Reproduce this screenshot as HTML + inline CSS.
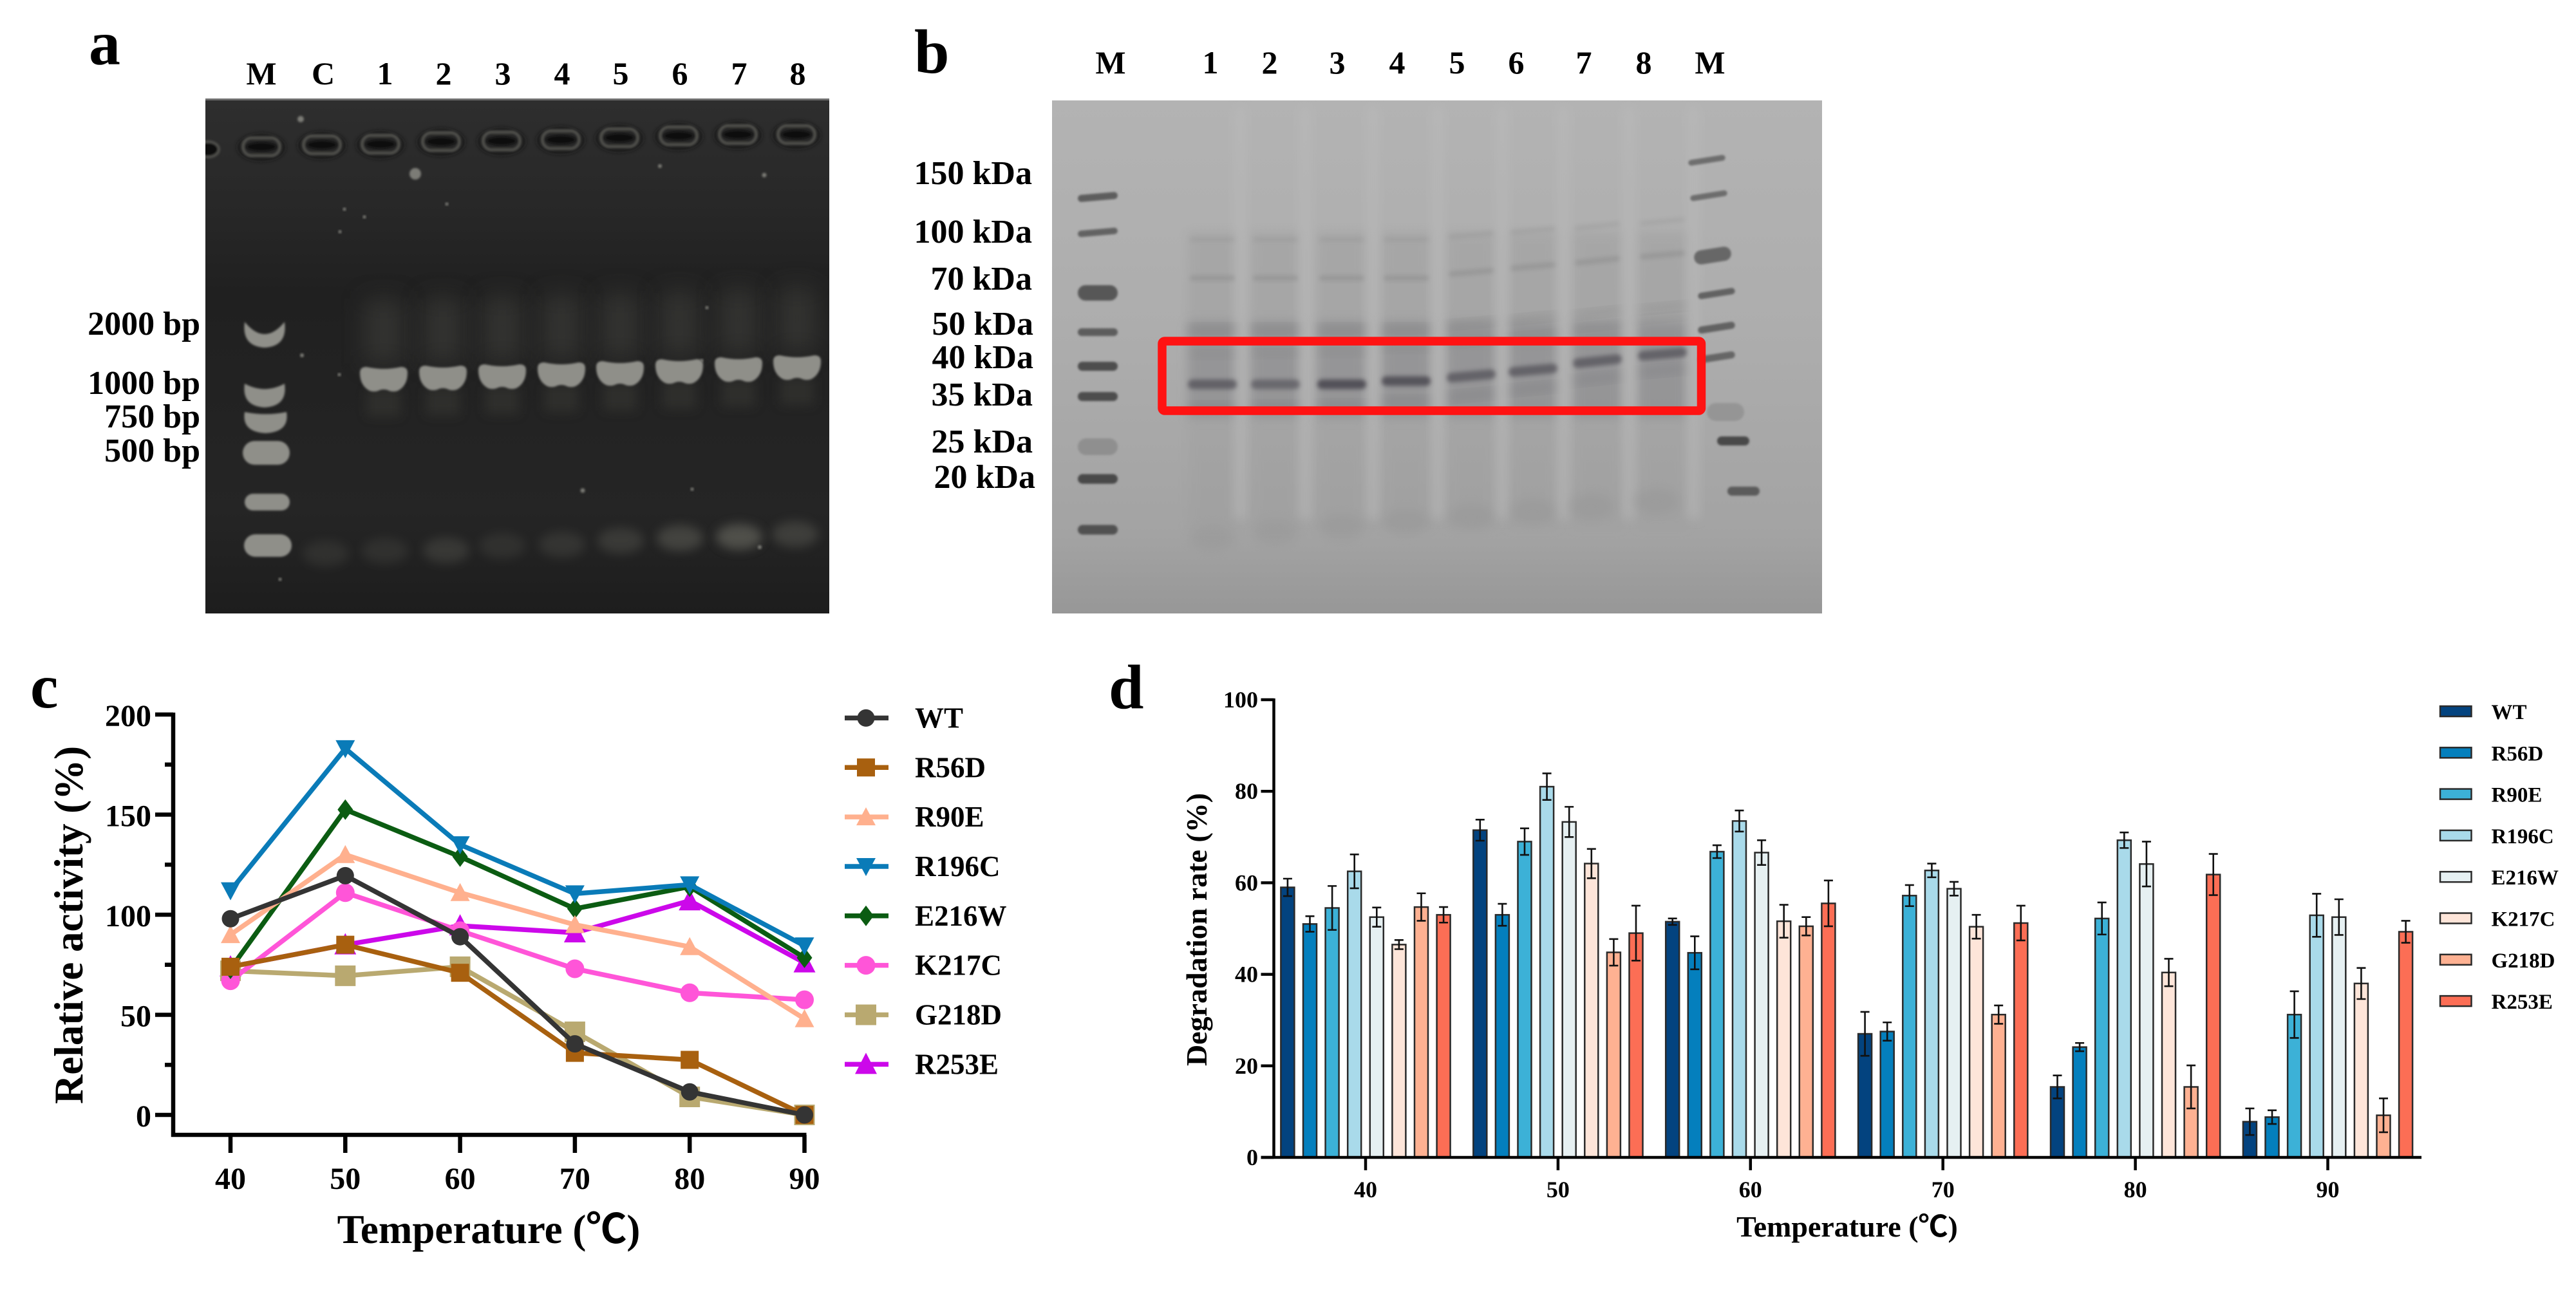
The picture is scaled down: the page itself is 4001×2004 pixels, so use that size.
<!DOCTYPE html>
<html lang="en">
<head>
<meta charset="utf-8">
<title>Gel and enzyme activity figure</title>
<style>
html,body{margin:0;padding:0;background:#fff;width:4001px;height:2004px;overflow:hidden}
svg{display:block}
text{font-family:"Liberation Serif","Noto Sans CJK SC",serif;font-weight:bold;fill:#000}
</style>
</head>
<body>
<svg id="figure" xmlns="http://www.w3.org/2000/svg" width="4001" height="2004" viewBox="0 0 4001 2004">
  <defs>
    <filter id="b1" x="-30%" y="-30%" width="160%" height="160%"><feGaussianBlur stdDeviation="1.5"/></filter>
    <filter id="b3" x="-30%" y="-80%" width="160%" height="260%"><feGaussianBlur stdDeviation="3.5"/></filter>
    <filter id="b8" x="-50%" y="-50%" width="200%" height="200%"><feGaussianBlur stdDeviation="8"/></filter>
    <filter id="b18" x="-60%" y="-60%" width="220%" height="220%"><feGaussianBlur stdDeviation="18"/></filter>
    <clipPath id="clipA"><rect x="319" y="153" width="969" height="800"/></clipPath>
    <clipPath id="clipB"><rect x="1634" y="156" width="1196" height="797"/></clipPath>
    <linearGradient id="gelBBg" x1="0" y1="0" x2="0" y2="1">
      <stop offset="0" stop-color="#b3b3b3"/><stop offset=".45" stop-color="#adadad"/>
      <stop offset=".85" stop-color="#a3a3a3"/><stop offset="1" stop-color="#979797"/>
    </linearGradient>
    <linearGradient id="gelABg" x1="0" y1="0" x2="0" y2="1">
      <stop offset="0" stop-color="#2e2e2e"/><stop offset=".2" stop-color="#282828"/>
      <stop offset=".38" stop-color="#202020"/><stop offset=".8" stop-color="#252525"/>
      <stop offset="1" stop-color="#1d1d1d"/>
    </linearGradient>
  </defs>

  <g id="panelA">
    <text x="138" y="100" font-size="98">a</text>
    <rect x="319" y="153" width="969" height="800" fill="url(#gelABg)"/>
    <rect x="319" y="153" width="969" height="3" fill="#6e6e6e"/>
    <g id="gelA" clip-path="url(#clipA)"></g>
    <g id="labelsA"></g>
  </g>

  <g id="panelB">
    <text x="1420" y="113" font-size="98">b</text>
    <rect x="1634" y="156" width="1196" height="797" fill="url(#gelBBg)"/>
    <g id="gelB" clip-path="url(#clipB)"></g>
    <rect x="1805" y="530" width="837.5" height="108" rx="4" fill="none" stroke="#ff1212" stroke-width="13.5"/>
    <g id="labelsB"></g>
  </g>

  <g id="panelC">
    <text x="47" y="1099" font-size="98">c</text>
  </g>
  <g id="panelD">
    <text x="1722" y="1100" font-size="98">d</text>
  </g>
</svg>

<script>
/* ---------- chart C data ---------- */
const activityTemps = [40, 50, 60, 70, 80, 90];
const activityTicksMajor = [0, 50, 100, 150, 200];
const activityTicksMinor = [25, 75, 125, 175];
const activityNames = ['WT', 'R56D', 'R90E', 'R196C', 'E216W', 'K217C', 'G218D', 'R253E'];
const activityWT = [98, 119.5, 89, 35.5, 11.5, 0];
const activityR56D = [74, 85, 71, 31, 27.5, 0];
const activityR90E = [90, 130, 111, 95, 84, 48];
const activityR196C = [112, 183, 135, 110.5, 115, 84.5];
const activityE216W = [73, 152.5, 129, 103, 114, 78.5];
const activityK217C = [67, 111, 92, 73, 61, 57.5];
const activityG218D = [72, 69.5, 74, 41.5, 9, 0];
const activityR253E = [74, 85, 94.5, 91, 107, 76];

/* ---------- chart D data ---------- */
const degradationTemps = [40, 50, 60, 70, 80, 90];
const degradationTicks = [0, 20, 40, 60, 80, 100];
const degradationNames = ['WT', 'R56D', 'R90E', 'R196C', 'E216W', 'K217C', 'G218D', 'R253E'];
const degWT = [59, 71.5, 51.5, 27, 15.4, 7.8];
const degR56D = [51, 53, 44.7, 27.5, 24.1, 8.8];
const degR90E = [54.5, 69, 66.8, 57.2, 52.2, 31.2];
const degR196C = [62.5, 81, 73.5, 62.7, 69.3, 52.9];
const degE216W = [52.5, 73.3, 66.6, 58.7, 64.1, 52.5];
const degK217C = [46.5, 64.2, 51.6, 50.4, 40.4, 38];
const degG218D = [54.7, 44.8, 50.5, 31.2, 15.4, 9.2];
const degR253E = [53, 49, 55.5, 51.2, 61.8, 49.3];
const errWT = [1.9, 2.3, 0.7, 4.8, 2.5, 2.9];
const errR56D = [1.7, 2.4, 3.6, 2, 0.9, 1.5];
const errR90E = [4.8, 2.9, 1.4, 2.3, 3.5, 5.1];
const errR196C = [3.7, 2.9, 2.3, 1.5, 1.7, 4.7];
const errE216W = [2.1, 3.3, 2.7, 1.5, 4.9, 3.9];
const errK217C = [1, 3.2, 3.6, 2.6, 3, 3.4];
const errG218D = [3, 2.9, 2, 2, 4.7, 3.7];
const errR253E = [1.7, 6, 5, 3.8, 4.5, 2.4];

const NS = 'http://www.w3.org/2000/svg';
function make(tag, attrs, parent) {
  const el = document.createElementNS(NS, tag);
  for (const k in attrs) el.setAttribute(k, attrs[k]);
  parent.appendChild(el);
  return el;
}
function label(parent, str, x, y, size, anchor, name, extra) {
  const t = make('text', Object.assign({x: x, y: y, 'font-size': size, 'text-anchor': anchor}, extra || {}), parent);
  t.textContent = str;
  
  
  return t;
}
function slug(s) { return s.toLowerCase(); }

/* ---------- Panel A gel ---------- */
(function () {
  const g = document.getElementById('gelA');
  const l = document.getElementById('labelsA');
  const laneNames = ['M', 'C', '1', '2', '3', '4', '5', '6', '7', '8'];
  const laneX = [406, 502, 598, 689, 781, 873, 964, 1056, 1148, 1239];
  laneNames.forEach(function (n, i) {
    label(l, n, laneX[i], 131, 50, 'middle', 'lane-label-' + slug(n));
  });
  const sizes = ['2000 bp', '1000 bp', '750 bp', '500 bp'];
  const sizeY = [520, 612, 664, 717];
  sizes.forEach(function (s, i) {
    label(l, s, 311, sizeY[i], 52, 'end', 'ladder-size-label');
  });
  const wellX = [406, 500, 591, 685, 779, 871, 962, 1054, 1146, 1237];
  const wellY = [228, 225, 224, 220, 219, 217, 214, 211, 209, 209];
  wellX.forEach(function (x, i) {
    const halo = make('ellipse', {cx: x, cy: wellY[i] + 1, rx: 37, ry: 21, fill: '#171717', opacity: .8, filter: 'url(#b3)'}, g);
    
    
    const e = make('rect', {x: x - 29, y: wellY[i] - 14, width: 58, height: 28, rx: 14, fill: '#262626', stroke: '#4f4f4b', 'stroke-width': 4.5, filter: 'url(#b1)'}, g);
    
    
    const d = make('ellipse', {cx: x, cy: wellY[i], rx: 23, ry: 6.5, fill: '#0b0b0b', filter: 'url(#b1)'}, g);
    
    
  });
  const edgeWell = make('ellipse', {cx: 323, cy: 232, rx: 17, ry: 12, fill: '#0f0f0f', stroke: '#4f4f4b', 'stroke-width': 4, filter: 'url(#b1)'}, g);
  
  

  const bandX = [596, 688, 780, 872, 963, 1055, 1147, 1238];
  const bandY = [589, 587, 585, 582, 580, 577, 574, 571];
  bandX.forEach(function (x, i) {
    const y = bandY[i];
    const smear = make('rect', {x: x - 30, y: y - 125, width: 60, height: 100, fill: '#454541', opacity: .5, filter: 'url(#b18)'}, g);
    
    
    const low = make('rect', {x: x - 26, y: y + 16, width: 52, height: 42, fill: '#3a3a36', opacity: .5, filter: 'url(#b8)'}, g);
    
    
    const d = 'M' + (x - 37) + ' ' + (y - 10) + ' Q' + (x - 37) + ' ' + (y - 19) + ' ' + (x - 27) + ' ' + (y - 19) +
      ' Q' + (x - 12) + ' ' + (y - 16) + ' ' + x + ' ' + (y - 16) + ' Q' + (x + 12) + ' ' + (y - 16) + ' ' + (x + 27) + ' ' + (y - 19) +
      ' Q' + (x + 37) + ' ' + (y - 19) + ' ' + (x + 37) + ' ' + (y - 10) + ' Q' + (x + 37) + ' ' + (y + 10) + ' ' + (x + 22) + ' ' + (y + 18) +
      ' Q' + (x + 14) + ' ' + (y + 21) + ' ' + (x + 6) + ' ' + (y + 17) + ' Q' + x + ' ' + (y + 15) + ' ' + (x - 6) + ' ' + (y + 17) +
      ' Q' + (x - 14) + ' ' + (y + 21) + ' ' + (x - 22) + ' ' + (y + 18) + ' Q' + (x - 37) + ' ' + (y + 10) + ' ' + (x - 37) + ' ' + (y - 10) + ' Z';
    const b = make('path', {d: d, fill: '#8f8f89', filter: 'url(#b1)'}, g);
    
    
  });
  const crescentL = [380, 380, 380];
  const crescentR = [442, 442, 445];
  const crescentT = [500, 596, 640];
  const crescentB = [540, 633, 673];
  const crescentD = [.95, .45, .2];
  crescentT.forEach(function (t, i) {
    const a = crescentL[i], c = crescentR[i], b = crescentB[i], m = (a + c) / 2;
    const d = 'M' + a + ' ' + t + ' Q' + m + ' ' + (t + (b - t) * crescentD[i]) + ' ' + c + ' ' + t +
      ' Q' + (c + 5) + ' ' + (b - 2) + ' ' + m + ' ' + b + ' Q' + (a - 5) + ' ' + (b - 2) + ' ' + a + ' ' + t + ' Z';
    const e = make('path', {d: d, fill: '#8f8f89', filter: 'url(#b1)'}, g);
    
    
  });
  const ladderX = [377, 380, 379];
  const ladderW = [73, 70, 74];
  const ladderY = [685, 767, 830];
  const ladderH = [37, 26, 35];
  ladderY.forEach(function (y, i) {
    const b = make('rect', {x: ladderX[i], y: y, width: ladderW[i], height: ladderH[i], rx: ladderH[i] / 2, fill: '#8f8f89', filter: 'url(#b1)'}, g);
    
    
  });
  const primerX = [506, 598, 693, 780, 873, 964, 1056, 1148, 1235];
  const primerY = [860, 856, 855, 848, 846, 840, 836, 834, 830];
  const primerA = [.2, .2, .3, .2, .25, .32, .45, .62, .38];
  primerX.forEach(function (x, i) {
    const e = make('ellipse', {cx: x, cy: primerY[i], rx: 36, ry: 20, fill: '#6a6a62', opacity: primerA[i], filter: 'url(#b8)'}, g);
    
    
  });
  const specksX = [467, 645, 535, 566, 528, 694, 469, 527, 1090, 1075, 435, 905, 1187, 1025, 1098, 1180];
  const specksY = [185, 270, 325, 337, 360, 317, 552, 582, 560, 760, 900, 762, 272, 258, 478, 850];
  const specksR = [5, 9, 2.5, 2.5, 2.5, 2.5, 3, 2.5, 2.5, 2.5, 2.5, 3.5, 3.5, 3, 2.5, 3];
  specksX.forEach(function (x, i) {
    const s = make('circle', {cx: x, cy: specksY[i], r: specksR[i], fill: '#7c7c76', filter: 'url(#b1)'}, g);
    
    
  });
})();

/* ---------- Panel B gel ---------- */
(function () {
  const g = document.getElementById('gelB');
  const l = document.getElementById('labelsB');
  const laneNames = ['M', '1', '2', '3', '4', '5', '6', '7', '8', 'M'];
  const laneX = [1725, 1880, 1972, 2077, 2170, 2263, 2355, 2460, 2553, 2656];
  laneNames.forEach(function (n, i) {
    label(l, n, laneX[i], 114, 50, 'middle', 'lane-label-' + slug(n));
  });
  const kda = ['150 kDa', '100 kDa', '70 kDa', '50 kDa', '40 kDa', '35 kDa', '25 kDa', '20 kDa'];
  const kdaY = [286, 377, 450, 520, 572, 630, 703, 758];
  const kdaR = [1603, 1603, 1603, 1605, 1605, 1604, 1604, 1608];
  kda.forEach(function (s, i) {
    label(l, s, kdaR[i], kdaY[i], 52, 'end', 'marker-size-label');
  });

  const lanes = [1883, 1981, 2084, 2184, 2285, 2381, 2481, 2582];
  lanes.forEach(function (x) {
    const s = make('rect', {x: x - 38, y: 360, width: 76, height: 180, fill: '#9a9a9a', opacity: .38, filter: 'url(#b8)'}, g);
    
    
    const m = make('rect', {x: x - 38, y: 500, width: 76, height: 150, fill: '#848487', opacity: .55, filter: 'url(#b8)'}, g);
    
    
    const s2 = make('rect', {x: x - 38, y: 650, width: 76, height: 170, fill: '#9b9b9b', opacity: .3, filter: 'url(#b8)'}, g);
    
    
  });
  const gaps = [1926, 2027, 2132, 2233, 2333, 2428, 2530, 2630];
  gaps.forEach(function (x) {
    const s = make('rect', {x: x - 9, y: 165, width: 18, height: 640, fill: '#bcbcbc', opacity: .5, filter: 'url(#b8)'}, g);
    
    
  });
  function band(x, y, w, h, tilt, col, op, name, blur) {
    const r = make('rect', {x: x - w / 2, y: y - h / 2, width: w, height: h, rx: h / 2, fill: col, opacity: op, filter: blur || 'url(#b3)', transform: 'rotate(' + tilt + ' ' + x + ' ' + y + ')'}, g);
    
    
  }
  const mainY = [597, 597, 597, 592, 584, 575, 561, 550];
  const mainOp = [.72, .62, .95, .9, .7, .7, .7, .7];
  const tilt = [0, 0, 0, 0, -5, -5, -6, -5];
  lanes.forEach(function (x, i) {
    band(x, mainY[i], 76, 15, tilt[i], '#504e54', mainOp[i], 'target-protein-band');
    band(x, mainY[i] + 36 - i * 1.5, 72, 12, tilt[i], '#76767a', .4, 'lane-band', 'url(#b8)');
    band(x, mainY[i] - 46 - i * 1.5, 72, 9, tilt[i], '#808080', .3, 'lane-band', 'url(#b8)');
    band(x, 432 - (i > 3 ? (i - 3) * 9 : 0), 70, 8, tilt[i], '#858585', .45, 'lane-band');
    band(x, 372 - (i > 3 ? (i - 3) * 7 : 0), 70, 7, tilt[i], '#8f8f8f', .3, 'lane-band');
    band(x, 510 - (i > 3 ? (i - 3) * 8 : 0), 72, 10, tilt[i], '#7f7f7f', .38, 'lane-band', 'url(#b8)');
    const foot = make('ellipse', {cx: x + (i > 5 ? -10 : 0), cy: 835 - i * 8, rx: 36, ry: 20, fill: '#949494', opacity: .42, filter: 'url(#b8)'}, g);
    
    
  });
  const markLeftY = [306, 361, 455, 516, 569, 616, 694, 744, 823];
  const markLeftH = [11, 10, 24, 12, 14, 14, 26, 15, 15];
  const markLeftC = [.8, .75, .85, .8, .95, .95, .25, 1, .9];
  markLeftY.forEach(function (y, i) {
    band(1705, y, 62, markLeftH[i], y < 400 ? -5 : 0, '#4a4a4a', markLeftC[i], 'left-marker-band', 'url(#b1)');
  });
  const markRightX = [2651, 2654, 2660, 2666, 2666, 2666, 2680, 2692, 2708];
  const markRightY = [249, 304, 397, 456, 509, 555, 640, 685, 763];
  const markRightH = [9, 9, 22, 10, 11, 11, 28, 14, 14];
  const markRightC = [.65, .65, .7, .75, .75, .7, .2, 1, .8];
  markRightY.forEach(function (y, i) {
    band(markRightX[i], y, i > 6 ? 50 : 58, markRightH[i], i < 6 ? -9 : 0, '#4a4a4a', markRightC[i], 'right-marker-band', 'url(#b1)');
  });
})();

/* ---------- Panel C line chart ---------- */
(function () {
  const root = document.getElementById('panelC');
  const colorWT = '#343434', colorR56D = '#a8600f', colorR90E = '#ffb08e', colorR196C = '#0a7bb8',
        colorE216W = '#0b5c12', colorK217C = '#ff55d8', colorG218D = '#b9a970', colorR253E = '#cc08ea';
  const palette = [colorWT, colorR56D, colorR90E, colorR196C, colorE216W, colorK217C, colorG218D, colorR253E];
  const shapes = ['circle', 'square', 'up', 'down', 'diamond', 'circle-l', 'square-l', 'up-l'];
  const series = [activityWT, activityR56D, activityR90E, activityR196C, activityE216W, activityK217C, activityG218D, activityR253E];

  const xMin = 40, xMax = 90, xLeft = 358, xRight = 1249.5;
  const yMin = 0, yMax = 200, yBottom = 1732, yTop = 1110;
  const sx = function (v) { return xLeft + (v - xMin) / (xMax - xMin) * (xRight - xLeft); };
  const sy = function (v) { return yBottom - (v - yMin) / (yMax - yMin) * (yBottom - yTop); };

  function marker(parent, shape, x, y, color, name) {
    let el;
    if (shape === 'circle' || shape === 'circle-l') {
      const r = shape === 'circle' ? 13.5 : 14.5;
      el = make('circle', {cx: x, cy: y, r: r, fill: color}, parent);
    } else if (shape === 'square' || shape === 'square-l') {
      const s = shape === 'square' ? 14 : 16;
      el = make('rect', {x: x - s, y: y - s, width: 2 * s, height: 2 * s, fill: color}, parent);
    } else if (shape === 'diamond') {
      el = make('polygon', {points: [x, y - 16, x + 12, y, x, y + 16, x - 12, y].join(' '), fill: color}, parent);
    } else if (shape === 'down') {
      el = make('polygon', {points: [x - 15, y - 13, x + 15, y - 13, x, y + 15].join(' '), fill: color}, parent);
    } else if (shape === 'up') {
      el = make('polygon', {points: [x - 15, y + 13, x + 15, y + 13, x, y - 15].join(' '), fill: color}, parent);
    } else {
      el = make('polygon', {points: [x - 17, y + 15, x + 17, y + 15, x, y - 18].join(' '), fill: color}, parent);
    }
    
    
  }

  const plot = make('g', {}, root);
  
  
  for (let i = series.length - 1; i >= 0; i--) {
    const grp = make('g', {}, plot);
    
    
    const pts = series[i].map(function (v, j) { return sx(activityTemps[j]) + ',' + sy(v); }).join(' ');
    const line = make('polyline', {points: pts, fill: 'none', stroke: palette[i], 'stroke-width': 7.5, 'stroke-linejoin': 'miter'}, grp);
    
    
    series[i].forEach(function (v, j) {
      marker(grp, shapes[i], sx(activityTemps[j]), sy(v), palette[i], 'point-' + slug(activityNames[i]));
    });
  }

  const axis = make('g', {stroke: '#000', 'stroke-width': 6.5, fill: 'none'}, root);
  
  
  const yLine = make('line', {x1: 269, x2: 269, y1: yTop - 3, y2: 1766}, axis);
  
  
  const xLine = make('line', {x1: 266, x2: xRight + 3, y1: 1763, y2: 1763}, axis);
  
  
  activityTicksMajor.forEach(function (v) {
    const t = make('line', {x1: 241, x2: 269, y1: sy(v), y2: sy(v)}, axis);
    
    
    label(root, String(v), 235, sy(v) + 18, 48, 'end', 'y-tick-label');
  });
  activityTicksMinor.forEach(function (v) {
    const t = make('line', {x1: 256, x2: 269, y1: sy(v), y2: sy(v)}, axis);
    
    
  });
  activityTemps.forEach(function (v) {
    const t = make('line', {x1: sx(v), x2: sx(v), y1: 1763, y2: 1791}, axis);
    
    
    label(root, String(v), sx(v), 1847, 48, 'middle', 'x-tick-label');
  });
  label(root, 'Temperature (℃)', 759, 1931, 63, 'middle', 'x-axis-title');
  label(root, 'Relative activity (%)', 0, 0, 63, 'middle', 'y-axis-title', {transform: 'translate(128 1437) rotate(-90)'});

  const legend = make('g', {}, root);
  
  
  activityNames.forEach(function (n, i) {
    const y = 1115.4 + i * 76.85;
    const entry = make('g', {}, legend);
    
    
    const ln = make('line', {x1: 1312, x2: 1380, y1: y, y2: y, stroke: palette[i], 'stroke-width': 7.5}, entry);
    
    
    marker(entry, shapes[i], 1345, y, palette[i], 'legend-marker');
    label(entry, n, 1421, y + 15, 45, 'start', 'legend-label');
  });
})();

/* ---------- Panel D bar chart ---------- */
(function () {
  const root = document.getElementById('panelD');
  const colWT = '#03437f', colR56D = '#047fbd', colR90E = '#3cb1d7', colR196C = '#a9daea',
        colE216W = '#e6f0f2', colK217C = '#fee5d9', colG218D = '#feb192', colR253E = '#fc6e55';
  const fills = [colWT, colR56D, colR90E, colR196C, colE216W, colK217C, colG218D, colR253E];
  const values = [degWT, degR56D, degR90E, degR196C, degE216W, degK217C, degG218D, degR253E];
  const errors = [errWT, errR56D, errR90E, errR196C, errE216W, errK217C, errG218D, errR253E];

  const xA = 2121, xB = 3615.5;
  const yBottom = 1798, yTop = 1087;
  const gx = function (i) { return xA + i / (degradationTemps.length - 1) * (xB - xA); };
  const sy = function (v) { return yBottom - v / 100 * (yBottom - yTop); };
  const barStep = 34.6, barW = 21;

  const plot = make('g', {}, root);
  
  
  degradationTemps.forEach(function (temp, gi) {
    const grp = make('g', {}, plot);
    
    
    values.forEach(function (vals, si) {
      const cx = gx(gi) + (si - 3.5) * barStep;
      const v = vals[gi], e = errors[si][gi];
      const bar = make('rect', {x: cx - barW / 2, y: sy(v), width: barW, height: yBottom - sy(v), fill: fills[si], stroke: '#2a2a2a', 'stroke-width': 2.5}, grp);
      
      
      const err = make('path', {d: 'M' + cx + ' ' + sy(v + e) + 'V' + sy(v - e) + 'M' + (cx - 7) + ' ' + sy(v + e) + 'h14M' + (cx - 7) + ' ' + sy(v - e) + 'h14', fill: 'none', stroke: '#111', 'stroke-width': 2.6}, grp);
      
      
    });
  });

  const axis = make('g', {stroke: '#000', 'stroke-width': 4.5, fill: 'none'}, root);
  
  
  const yLine = make('line', {x1: 1978.5, x2: 1978.5, y1: yTop - 2, y2: yBottom}, axis);
  
  
  const xLine = make('line', {x1: 1958.5, x2: 3761, y1: yBottom, y2: yBottom}, axis);
  
  
  degradationTicks.forEach(function (v) {
    const t = make('line', {x1: 1958.5, x2: 1978.5, y1: sy(v), y2: sy(v)}, axis);
    
    
    label(root, String(v), 1954, sy(v) + 12, 36, 'end', 'y-tick-label');
  });
  degradationTemps.forEach(function (temp, gi) {
    const t = make('line', {x1: gx(gi), x2: gx(gi), y1: yBottom, y2: 1818}, axis);
    
    
    label(root, String(temp), gx(gi), 1860, 36, 'middle', 'x-tick-label');
  });
  label(root, 'Temperature (℃)', 2869, 1921, 46, 'middle', 'x-axis-title');
  label(root, 'Degradation rate (%)', 0, 0, 46, 'middle', 'y-axis-title', {transform: 'translate(1874 1444) rotate(-90)'});

  const legend = make('g', {}, root);
  
  
  degradationNames.forEach(function (n, i) {
    const y = 1097 + i * 64.3;
    const entry = make('g', {}, legend);
    
    
    const sw = make('rect', {x: 3790, y: y, width: 48.5, height: 16, fill: fills[i], stroke: '#2a2a2a', 'stroke-width': 2.5}, entry);
    
    
    label(entry, n, 3869.5, y + 20, 33, 'start', 'legend-label');
  });
})();
</script>
</body>
</html>
